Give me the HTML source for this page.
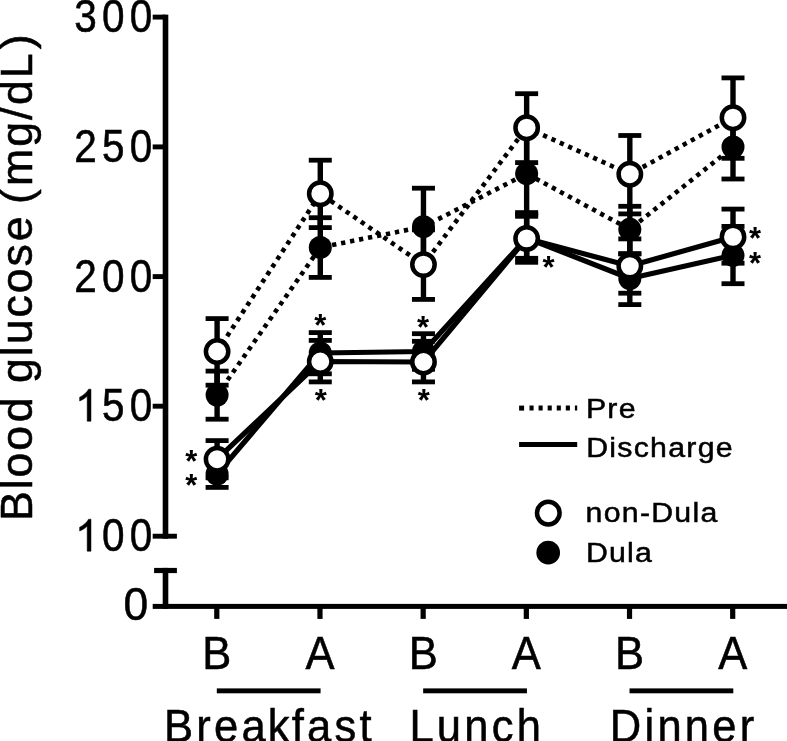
<!DOCTYPE html>
<html><head><meta charset="utf-8"><title>Blood glucose</title>
<style>html,body{margin:0;padding:0;background:#fff;}svg{display:block;will-change:transform;}</style>
</head><body>
<svg width="787" height="741" viewBox="0 0 787 741">
<rect width="787" height="741" fill="#fff"/>
<rect x="162.7" y="14.65" width="5.6" height="524.0" fill="#000"/>
<rect x="152.7" y="14.65" width="12.80" height="4.9" fill="#000"/>
<rect x="152.7" y="144.45" width="12.80" height="4.9" fill="#000"/>
<rect x="152.7" y="274.15" width="12.80" height="4.9" fill="#000"/>
<rect x="152.7" y="403.75" width="12.80" height="4.9" fill="#000"/>
<rect x="152.7" y="533.75" width="24.20" height="4.9" fill="#000"/>
<rect x="154.1" y="567.9" width="22.80" height="5.2" fill="#000"/>
<rect x="162.7" y="567.9" width="5.6" height="40.90" fill="#000"/>
<rect x="152.7" y="603.9" width="634.3" height="5.0" fill="#000"/>
<rect x="214.20" y="606" width="5.2" height="12.9" fill="#000"/>
<rect x="317.38" y="606" width="5.2" height="12.9" fill="#000"/>
<rect x="420.56" y="606" width="5.2" height="12.9" fill="#000"/>
<rect x="523.74" y="606" width="5.2" height="12.9" fill="#000"/>
<rect x="626.92" y="606" width="5.2" height="12.9" fill="#000"/>
<rect x="730.10" y="606" width="5.2" height="12.9" fill="#000"/>
<polyline points="217.10,395.00 320.28,247.40 423.46,226.70 526.64,173.70 629.82,229.30 733.00,147.00" fill="none" stroke="#000" stroke-width="4.6" stroke-dasharray="4.3 4.85"/>
<line x1="217.10" y1="371.10" x2="217.10" y2="419.20" stroke="#000" stroke-width="5.4"/>
<rect x="205.60" y="368.70" width="23.00" height="4.8" fill="#000"/>
<rect x="205.60" y="416.80" width="23.00" height="4.8" fill="#000"/>
<line x1="320.28" y1="217.70" x2="320.28" y2="277.40" stroke="#000" stroke-width="5.4"/>
<rect x="308.78" y="215.30" width="23.00" height="4.8" fill="#000"/>
<rect x="308.78" y="275.00" width="23.00" height="4.8" fill="#000"/>
<line x1="423.46" y1="188.20" x2="423.46" y2="265.20" stroke="#000" stroke-width="5.4"/>
<rect x="411.96" y="185.80" width="23.00" height="4.8" fill="#000"/>
<rect x="411.96" y="262.80" width="23.00" height="4.8" fill="#000"/>
<line x1="526.64" y1="133.00" x2="526.64" y2="214.30" stroke="#000" stroke-width="5.4"/>
<rect x="515.14" y="130.60" width="23.00" height="4.8" fill="#000"/>
<rect x="515.14" y="211.90" width="23.00" height="4.8" fill="#000"/>
<line x1="629.82" y1="206.30" x2="629.82" y2="253.80" stroke="#000" stroke-width="5.4"/>
<rect x="618.32" y="203.90" width="23.00" height="4.8" fill="#000"/>
<rect x="618.32" y="251.40" width="23.00" height="4.8" fill="#000"/>
<line x1="733.00" y1="115.00" x2="733.00" y2="179.00" stroke="#000" stroke-width="5.4"/>
<rect x="721.50" y="112.60" width="23.00" height="4.8" fill="#000"/>
<rect x="721.50" y="176.60" width="23.00" height="4.8" fill="#000"/>
<circle cx="217.10" cy="395.00" r="11.5" fill="#000"/>
<circle cx="320.28" cy="247.40" r="11.5" fill="#000"/>
<circle cx="423.46" cy="226.70" r="11.5" fill="#000"/>
<circle cx="526.64" cy="173.70" r="11.5" fill="#000"/>
<circle cx="629.82" cy="229.30" r="11.5" fill="#000"/>
<circle cx="733.00" cy="147.00" r="11.5" fill="#000"/>
<polyline points="217.10,351.50 320.28,193.70 423.46,264.60 526.64,127.70 629.82,174.20 733.00,117.70" fill="none" stroke="#000" stroke-width="4.6" stroke-dasharray="4.3 4.85"/>
<line x1="217.10" y1="318.60" x2="217.10" y2="385.20" stroke="#000" stroke-width="5.4"/>
<rect x="205.60" y="316.20" width="23.00" height="4.8" fill="#000"/>
<rect x="205.60" y="382.80" width="23.00" height="4.8" fill="#000"/>
<line x1="320.28" y1="160.20" x2="320.28" y2="227.60" stroke="#000" stroke-width="5.4"/>
<rect x="308.78" y="157.80" width="23.00" height="4.8" fill="#000"/>
<rect x="308.78" y="225.20" width="23.00" height="4.8" fill="#000"/>
<line x1="423.46" y1="229.80" x2="423.46" y2="299.40" stroke="#000" stroke-width="5.4"/>
<rect x="411.96" y="227.40" width="23.00" height="4.8" fill="#000"/>
<rect x="411.96" y="297.00" width="23.00" height="4.8" fill="#000"/>
<line x1="526.64" y1="93.70" x2="526.64" y2="162.60" stroke="#000" stroke-width="5.4"/>
<rect x="515.14" y="91.30" width="23.00" height="4.8" fill="#000"/>
<rect x="515.14" y="160.20" width="23.00" height="4.8" fill="#000"/>
<line x1="629.82" y1="135.50" x2="629.82" y2="213.90" stroke="#000" stroke-width="5.4"/>
<rect x="618.32" y="133.10" width="23.00" height="4.8" fill="#000"/>
<rect x="618.32" y="211.50" width="23.00" height="4.8" fill="#000"/>
<line x1="733.00" y1="77.90" x2="733.00" y2="158.30" stroke="#000" stroke-width="5.4"/>
<rect x="721.50" y="75.50" width="23.00" height="4.8" fill="#000"/>
<rect x="721.50" y="155.90" width="23.00" height="4.8" fill="#000"/>
<circle cx="217.10" cy="351.50" r="11.2" fill="#fff" stroke="#000" stroke-width="4.5"/>
<circle cx="320.28" cy="193.70" r="11.2" fill="#fff" stroke="#000" stroke-width="4.5"/>
<circle cx="423.46" cy="264.60" r="11.2" fill="#fff" stroke="#000" stroke-width="4.5"/>
<circle cx="526.64" cy="127.70" r="11.2" fill="#fff" stroke="#000" stroke-width="4.5"/>
<circle cx="629.82" cy="174.20" r="11.2" fill="#fff" stroke="#000" stroke-width="4.5"/>
<circle cx="733.00" cy="117.70" r="11.2" fill="#fff" stroke="#000" stroke-width="4.5"/>
<polyline points="217.10,474.00 320.28,353.00 423.46,351.50 526.64,238.00 629.82,278.50 733.00,255.30" fill="none" stroke="#000" stroke-width="5.2" stroke-linejoin="round"/>
<line x1="217.10" y1="460.60" x2="217.10" y2="487.40" stroke="#000" stroke-width="5.4"/>
<rect x="205.60" y="458.20" width="23.00" height="4.8" fill="#000"/>
<rect x="205.60" y="485.00" width="23.00" height="4.8" fill="#000"/>
<line x1="320.28" y1="332.60" x2="320.28" y2="373.80" stroke="#000" stroke-width="5.4"/>
<rect x="308.78" y="330.20" width="23.00" height="4.8" fill="#000"/>
<rect x="308.78" y="371.40" width="23.00" height="4.8" fill="#000"/>
<line x1="423.46" y1="333.70" x2="423.46" y2="369.30" stroke="#000" stroke-width="5.4"/>
<rect x="411.96" y="331.30" width="23.00" height="4.8" fill="#000"/>
<rect x="411.96" y="366.90" width="23.00" height="4.8" fill="#000"/>
<line x1="526.64" y1="212.60" x2="526.64" y2="262.30" stroke="#000" stroke-width="5.4"/>
<rect x="515.14" y="210.20" width="23.00" height="4.8" fill="#000"/>
<rect x="515.14" y="259.90" width="23.00" height="4.8" fill="#000"/>
<line x1="629.82" y1="253.80" x2="629.82" y2="304.60" stroke="#000" stroke-width="5.4"/>
<rect x="618.32" y="251.40" width="23.00" height="4.8" fill="#000"/>
<rect x="618.32" y="302.20" width="23.00" height="4.8" fill="#000"/>
<line x1="733.00" y1="226.40" x2="733.00" y2="283.70" stroke="#000" stroke-width="5.4"/>
<rect x="721.50" y="224.00" width="23.00" height="4.8" fill="#000"/>
<rect x="721.50" y="281.30" width="23.00" height="4.8" fill="#000"/>
<circle cx="217.10" cy="474.00" r="11.5" fill="#000"/>
<circle cx="320.28" cy="353.00" r="11.5" fill="#000"/>
<circle cx="423.46" cy="351.50" r="11.5" fill="#000"/>
<circle cx="526.64" cy="238.00" r="11.5" fill="#000"/>
<circle cx="629.82" cy="278.50" r="11.5" fill="#000"/>
<circle cx="733.00" cy="255.30" r="11.5" fill="#000"/>
<polyline points="217.10,459.20 320.28,361.50 423.46,362.00 526.64,238.40 629.82,266.10 733.00,236.90" fill="none" stroke="#000" stroke-width="5.2" stroke-linejoin="round"/>
<line x1="217.10" y1="440.60" x2="217.10" y2="477.80" stroke="#000" stroke-width="5.4"/>
<rect x="205.60" y="438.20" width="23.00" height="4.8" fill="#000"/>
<rect x="205.60" y="475.40" width="23.00" height="4.8" fill="#000"/>
<line x1="320.28" y1="340.40" x2="320.28" y2="381.90" stroke="#000" stroke-width="5.4"/>
<rect x="308.78" y="338.00" width="23.00" height="4.8" fill="#000"/>
<rect x="308.78" y="379.50" width="23.00" height="4.8" fill="#000"/>
<line x1="423.46" y1="341.30" x2="423.46" y2="381.90" stroke="#000" stroke-width="5.4"/>
<rect x="411.96" y="338.90" width="23.00" height="4.8" fill="#000"/>
<rect x="411.96" y="379.50" width="23.00" height="4.8" fill="#000"/>
<line x1="526.64" y1="216.30" x2="526.64" y2="258.30" stroke="#000" stroke-width="5.4"/>
<rect x="515.14" y="213.90" width="23.00" height="4.8" fill="#000"/>
<rect x="515.14" y="255.90" width="23.00" height="4.8" fill="#000"/>
<line x1="629.82" y1="238.90" x2="629.82" y2="293.20" stroke="#000" stroke-width="5.4"/>
<rect x="618.32" y="236.50" width="23.00" height="4.8" fill="#000"/>
<rect x="618.32" y="290.80" width="23.00" height="4.8" fill="#000"/>
<line x1="733.00" y1="209.10" x2="733.00" y2="263.20" stroke="#000" stroke-width="5.4"/>
<rect x="721.50" y="206.70" width="23.00" height="4.8" fill="#000"/>
<rect x="721.50" y="260.80" width="23.00" height="4.8" fill="#000"/>
<circle cx="217.10" cy="459.20" r="11.2" fill="#fff" stroke="#000" stroke-width="4.5"/>
<circle cx="320.28" cy="361.50" r="11.2" fill="#fff" stroke="#000" stroke-width="4.5"/>
<circle cx="423.46" cy="362.00" r="11.2" fill="#fff" stroke="#000" stroke-width="4.5"/>
<circle cx="526.64" cy="238.40" r="11.2" fill="#fff" stroke="#000" stroke-width="4.5"/>
<circle cx="629.82" cy="266.10" r="11.2" fill="#fff" stroke="#000" stroke-width="4.5"/>
<circle cx="733.00" cy="236.90" r="11.2" fill="#fff" stroke="#000" stroke-width="4.5"/>
<text transform="translate(129.74,32.10) scale(0.875,1)" font-family="Liberation Sans, sans-serif" font-size="46.3" fill="#000" stroke="#000" stroke-width="0.55">0</text>
<text transform="translate(101.94,32.10) scale(0.875,1)" font-family="Liberation Sans, sans-serif" font-size="46.3" fill="#000" stroke="#000" stroke-width="0.55">0</text>
<text transform="translate(74.14,32.10) scale(0.875,1)" font-family="Liberation Sans, sans-serif" font-size="46.3" fill="#000" stroke="#000" stroke-width="0.55">3</text>
<text transform="translate(129.74,161.90) scale(0.875,1)" font-family="Liberation Sans, sans-serif" font-size="46.3" fill="#000" stroke="#000" stroke-width="0.55">0</text>
<text transform="translate(101.94,161.90) scale(0.875,1)" font-family="Liberation Sans, sans-serif" font-size="46.3" fill="#000" stroke="#000" stroke-width="0.55">5</text>
<text transform="translate(74.14,161.90) scale(0.875,1)" font-family="Liberation Sans, sans-serif" font-size="46.3" fill="#000" stroke="#000" stroke-width="0.55">2</text>
<text transform="translate(129.74,291.60) scale(0.875,1)" font-family="Liberation Sans, sans-serif" font-size="46.3" fill="#000" stroke="#000" stroke-width="0.55">0</text>
<text transform="translate(101.94,291.60) scale(0.875,1)" font-family="Liberation Sans, sans-serif" font-size="46.3" fill="#000" stroke="#000" stroke-width="0.55">0</text>
<text transform="translate(74.14,291.60) scale(0.875,1)" font-family="Liberation Sans, sans-serif" font-size="46.3" fill="#000" stroke="#000" stroke-width="0.55">2</text>
<text transform="translate(129.74,421.20) scale(0.875,1)" font-family="Liberation Sans, sans-serif" font-size="46.3" fill="#000" stroke="#000" stroke-width="0.55">0</text>
<text transform="translate(101.94,421.20) scale(0.875,1)" font-family="Liberation Sans, sans-serif" font-size="46.3" fill="#000" stroke="#000" stroke-width="0.55">5</text>
<path transform="translate(74.94,421.20) scale(0.02102,-0.02173)" d="M763 0H583V1147Q518 1085 412.5 1023Q307 961 223 930V1104Q374 1175 487 1276Q600 1377 647 1472H763Z" fill="#000" stroke="#000" stroke-width="24.3"/>
<text transform="translate(129.74,551.20) scale(0.875,1)" font-family="Liberation Sans, sans-serif" font-size="46.3" fill="#000" stroke="#000" stroke-width="0.55">0</text>
<text transform="translate(101.94,551.20) scale(0.875,1)" font-family="Liberation Sans, sans-serif" font-size="46.3" fill="#000" stroke="#000" stroke-width="0.55">0</text>
<path transform="translate(74.94,551.20) scale(0.02102,-0.02173)" d="M763 0H583V1147Q518 1085 412.5 1023Q307 961 223 930V1104Q374 1175 487 1276Q600 1377 647 1472H763Z" fill="#000" stroke="#000" stroke-width="24.3"/>
<text transform="translate(123.61,620.00) scale(0.96,1)" font-family="Liberation Sans, sans-serif" font-size="46.3" fill="#000" stroke="#000" stroke-width="0.55">0</text>
<text transform="translate(216.80,668.90) scale(0.94,1)" font-family="Liberation Sans, sans-serif" font-size="46.3" text-anchor="middle" letter-spacing="0.000" fill="#000" stroke="#000" stroke-width="0.55" >B</text>
<text transform="translate(319.98,668.90) scale(0.94,1)" font-family="Liberation Sans, sans-serif" font-size="46.3" text-anchor="middle" letter-spacing="0.000" fill="#000" stroke="#000" stroke-width="0.55" >A</text>
<text transform="translate(423.16,668.90) scale(0.94,1)" font-family="Liberation Sans, sans-serif" font-size="46.3" text-anchor="middle" letter-spacing="0.000" fill="#000" stroke="#000" stroke-width="0.55" >B</text>
<text transform="translate(526.34,668.90) scale(0.94,1)" font-family="Liberation Sans, sans-serif" font-size="46.3" text-anchor="middle" letter-spacing="0.000" fill="#000" stroke="#000" stroke-width="0.55" >A</text>
<text transform="translate(629.52,668.90) scale(0.94,1)" font-family="Liberation Sans, sans-serif" font-size="46.3" text-anchor="middle" letter-spacing="0.000" fill="#000" stroke="#000" stroke-width="0.55" >B</text>
<text transform="translate(732.70,668.90) scale(0.94,1)" font-family="Liberation Sans, sans-serif" font-size="46.3" text-anchor="middle" letter-spacing="0.000" fill="#000" stroke="#000" stroke-width="0.55" >A</text>
<rect x="216.80" y="688.4" width="103.78" height="4.9" fill="#000"/>
<rect x="423.16" y="688.4" width="103.78" height="4.9" fill="#000"/>
<rect x="629.52" y="688.4" width="103.78" height="4.9" fill="#000"/>
<text transform="translate(269.41,742.00) scale(0.94,1)" font-family="Liberation Sans, sans-serif" font-size="46.3" text-anchor="middle" letter-spacing="3.457" fill="#000" stroke="#000" stroke-width="0.55" >Brea<tspan dx="-1.28">k</tspan><tspan dx="-1.06">f</tspan>ast</text>
<text transform="translate(476.77,742.00) scale(0.94,1)" font-family="Liberation Sans, sans-serif" font-size="46.3" text-anchor="middle" letter-spacing="3.457" fill="#000" stroke="#000" stroke-width="0.55" >Lunch</text>
<text transform="translate(683.63,742.00) scale(0.94,1)" font-family="Liberation Sans, sans-serif" font-size="46.3" text-anchor="middle" letter-spacing="3.457" fill="#000" stroke="#000" stroke-width="0.55" >Dinner</text>
<text transform="translate(31.8,276.75) rotate(-90) scale(1,1.005)" x="0" y="0" font-family="Liberation Sans, sans-serif" font-size="44.7" text-anchor="middle" letter-spacing="1.9" fill="#000" stroke="#000" stroke-width="0.55">Bloo<tspan dx="1.8">d</tspan><tspan dx="-1.8"> </tspan>glucos<tspan dx="1">e</tspan> <tspan dx="-3.8">(</tspan><tspan dx="1.3">m</tspan>g/<tspan dx="0.7">d</tspan>L<tspan dx="2.3">)</tspan></text>
<rect x="519.1" y="405.6" width="5.0" height="5.0" fill="#000"/>
<line x1="529.5" y1="408.1" x2="577.2" y2="408.1" stroke="#000" stroke-width="5.0" stroke-dasharray="4.1 4.98"/>
<rect x="519.1" y="442.0" width="58.1" height="5.0" fill="#000"/>
<circle cx="548.3" cy="513.1" r="11.299999999999999" fill="#fff" stroke="#000" stroke-width="4.5"/>
<circle cx="548.2" cy="552.7" r="11.85" fill="#000"/>
<text transform="translate(585.9,418.0) scale(1.09,1)" x="0" y="0" font-family="Liberation Sans, sans-serif" font-size="27.8" letter-spacing="1.15" fill="#000" stroke="#000" stroke-width="0.5">Pre</text>
<text transform="translate(586.2,457.0) scale(1.09,1)" x="0" y="0" font-family="Liberation Sans, sans-serif" font-size="27.8" letter-spacing="1.15" fill="#000" stroke="#000" stroke-width="0.5">Discharge</text>
<text transform="translate(585.6,522.1) scale(1.09,1)" x="0" y="0" font-family="Liberation Sans, sans-serif" font-size="27.8" letter-spacing="1.15" fill="#000" stroke="#000" stroke-width="0.5">non-Dula</text>
<text transform="translate(585.9,561.7) scale(1.09,1)" x="0" y="0" font-family="Liberation Sans, sans-serif" font-size="27.8" letter-spacing="1.15" fill="#000" stroke="#000" stroke-width="0.5">Dula</text>
<text class="star" x="191.30" y="472.20" font-family="Liberation Sans, sans-serif" font-size="31" font-weight="bold" text-anchor="middle" fill="#000">*</text>
<text class="star" x="191.30" y="496.20" font-family="Liberation Sans, sans-serif" font-size="31" font-weight="bold" text-anchor="middle" fill="#000">*</text>
<text class="star" x="320.20" y="336.30" font-family="Liberation Sans, sans-serif" font-size="31" font-weight="bold" text-anchor="middle" fill="#000">*</text>
<text class="star" x="320.80" y="410.90" font-family="Liberation Sans, sans-serif" font-size="31" font-weight="bold" text-anchor="middle" fill="#000">*</text>
<text class="star" x="423.10" y="337.90" font-family="Liberation Sans, sans-serif" font-size="31" font-weight="bold" text-anchor="middle" fill="#000">*</text>
<text class="star" x="423.80" y="410.90" font-family="Liberation Sans, sans-serif" font-size="31" font-weight="bold" text-anchor="middle" fill="#000">*</text>
<text class="star" x="548.50" y="277.90" font-family="Liberation Sans, sans-serif" font-size="31" font-weight="bold" text-anchor="middle" fill="#000">*</text>
<text class="star" x="755.00" y="248.50" font-family="Liberation Sans, sans-serif" font-size="31" font-weight="bold" text-anchor="middle" fill="#000">*</text>
<text class="star" x="755.00" y="274.00" font-family="Liberation Sans, sans-serif" font-size="31" font-weight="bold" text-anchor="middle" fill="#000">*</text>
</svg>
</body></html>
